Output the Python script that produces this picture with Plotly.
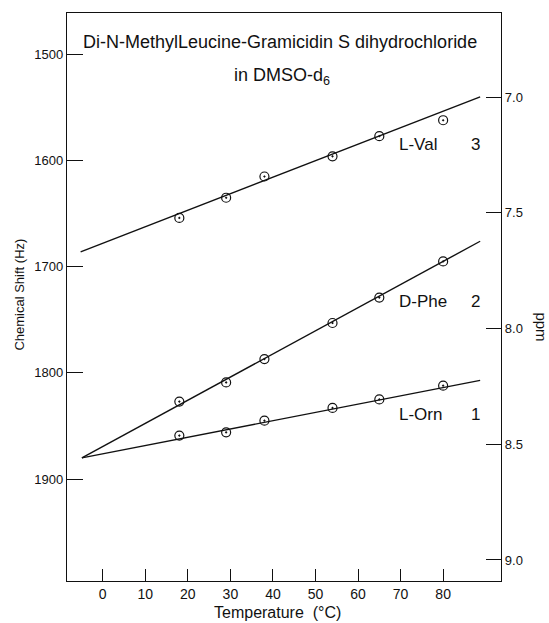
import plotly.graph_objects as go

# Measured NH chemical shifts (Hz at 220 MHz) vs temperature
temps = [18, 29, 38, 54, 65, 80]
val_hz = [1654, 1635, 1615, 1596, 1577, 1562]
phe_hz = [1827, 1809, 1787, 1753, 1729, 1695]
orn_hz = [1859, 1856, 1845, 1833, 1825, 1812]

# Straight-line fits, given by their end points
val_fit_t = [-5.2, 88.7]
val_fit_hz = [1686, 1540]
low_fit_t = [-4.9, 88.7]
phe_fit_hz = [1880, 1676]
orn_fit_hz = [1880, 1807]

x_ticks = [0, 10, 20, 30, 40, 50, 60, 70, 80]
hz_ticks = [1500, 1600, 1700, 1800, 1900]
ppm_ticks = [7.0, 7.5, 8.0, 8.5, 9.0]

FONT = "Liberation Sans"
INK = "#111111"

fig = go.Figure()

for fx, fy in [(val_fit_t, val_fit_hz), (low_fit_t, phe_fit_hz), (low_fit_t, orn_fit_hz)]:
    fig.add_trace(go.Scatter(x=fx, y=fy, mode="lines",
                             line=dict(color=INK, width=1.4),
                             showlegend=False, hoverinfo="skip"))

for ys in (val_hz, phe_hz, orn_hz):
    fig.add_trace(go.Scatter(x=temps, y=ys, mode="markers",
                             marker=dict(symbol="circle-open-dot", size=9,
                                         color=INK, line=dict(color=INK, width=1.2)),
                             showlegend=False))

# invisible trace that carries the ppm axis
fig.add_trace(go.Scatter(x=[None], y=[None], yaxis="y2", showlegend=False))

fig.update_layout(
    width=549, height=623,
    margin=dict(l=67, r=48, t=13, b=42),
    paper_bgcolor="white", plot_bgcolor="white",
    font=dict(family=FONT, color=INK, size=13),
    xaxis=dict(range=[-8.4, 93.6], tickvals=x_ticks,
               ticks="inside", ticklen=12, tickwidth=1.3, tickcolor=INK,
               showline=True, linecolor=INK, linewidth=1.4, mirror=True,
               showgrid=False, zeroline=False,
               tickfont=dict(size=14, family=FONT)),
    yaxis=dict(range=[1996, 1461], tickvals=hz_ticks,
               ticks="inside", ticklen=16, tickwidth=1.4, tickcolor=INK,
               showline=True, linecolor=INK, linewidth=1.4,
               showgrid=False, zeroline=False,
               tickfont=dict(size=13, family=FONT)),
    yaxis2=dict(range=[9.091, 6.636], overlaying="y", side="right",
                tickvals=ppm_ticks, tickformat=".1f",
                ticks="inside", ticklen=15, tickwidth=1.3, tickcolor=INK,
                showline=True, linecolor=INK, linewidth=1.4,
                showgrid=False, zeroline=False,
                tickfont=dict(size=13, family=FONT)),
)

ann = []
# heading inside the frame
ann.append(dict(x=41.7, y=1488, xref="x", yref="y", showarrow=False,
                xanchor="center", yanchor="middle",
                text="Di-N-MethylLeucine-Gramicidin S dihydrochloride",
                font=dict(size=18, family=FONT, color=INK)))
ann.append(dict(x=42.2, y=1521, xref="x", yref="y", showarrow=False,
                xanchor="center", yanchor="middle",
                text="in DMSO-d<sub>6</sub>",
                font=dict(size=18, family=FONT, color=INK)))

# residue labels with their numbers
for name, num, hz in [("L-Val", "3", 1585.3), ("D-Phe", "2", 1732.9), ("L-Orn", "1", 1838.7)]:
    ann.append(dict(x=69.2, y=hz, xref="x", yref="y", showarrow=False,
                    xanchor="left", yanchor="middle", text=name,
                    font=dict(size=17, family=FONT, color=INK)))
    ann.append(dict(x=87.5, y=hz, xref="x", yref="y", showarrow=False,
                    xanchor="center", yanchor="middle",
                    text=num, font=dict(size=17, family=FONT, color=INK)))

# axis titles
ann.append(dict(x=-0.1115, y=0.5035, xref="paper", yref="paper", showarrow=False,
                xanchor="center", yanchor="middle",
                text="Chemical Shift (Hz)", textangle=-90,
                font=dict(size=13, family=FONT, color=INK)))
ann.append(dict(x=1.0938, y=0.447, xref="paper", yref="paper", showarrow=False,
                xanchor="center", yanchor="middle",
                text="ppm", textangle=90,
                font=dict(size=15, family=FONT, color=INK)))
ann.append(dict(x=0.4839, y=-0.0563, xref="paper", yref="paper", showarrow=False,
                xanchor="center", yanchor="middle",
                text="Temperature  (°C)",
                font=dict(size=16, family=FONT, color=INK)))

fig.update_layout(annotations=ann)

fig.write_html("out.html")
